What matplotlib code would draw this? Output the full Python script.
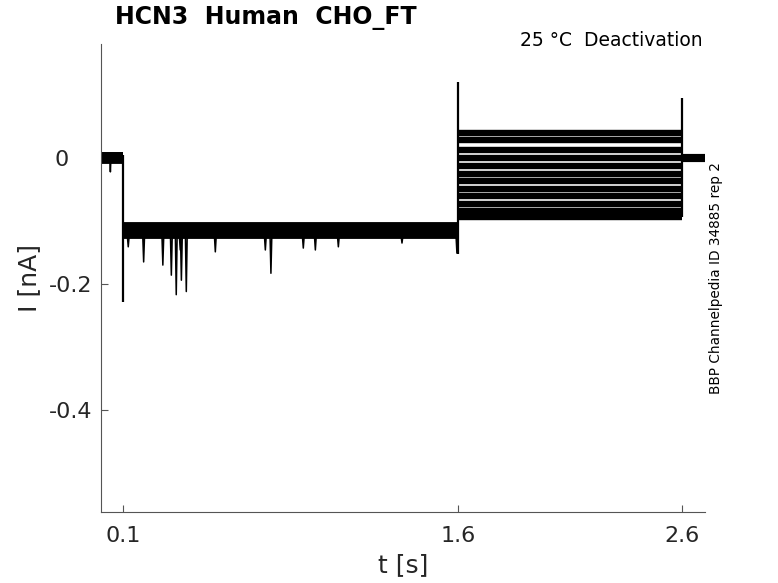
import matplotlib
matplotlib.use("Agg")
import matplotlib.pyplot as plt
from matplotlib.transforms import ScaledTranslation

# ---- data ----
t_start, t_on, t_step, t_off, t_end = 0.0, 0.1, 1.6, 2.6, 2.705
baseline_levels = [0.004, 0.002, 0.0, -0.002, 0.003, 0.001, -0.003, 0.005, -0.001, 0.002, -0.004, 0.0]
hold_levels = [-0.106, -0.108, -0.109, -0.111, -0.112, -0.114, -0.115, -0.117, -0.119, -0.120, -0.122, -0.124]
test_levels = [0.040, 0.029, 0.013, 0.000, -0.013, -0.025, -0.037, -0.049, -0.060, -0.073, -0.084, -0.094]
tail_levels = [0.003, 0.002, 0.001, 0.0, -0.001, 0.002, -0.002, 0.0, 0.001, -0.001, 0.002, -0.003]

spike_on = -0.229
spike_step_up = 0.12
spike_step_down = -0.152
spike_off = 0.095

# transient dips during the holding phase
dip_t = [0.122, 0.191, 0.277, 0.315, 0.337, 0.360, 0.382, 0.355, 0.512, 0.736,
         0.761, 0.906, 0.960, 1.063, 1.348, 1.594]
dip_v = [-0.141, -0.165, -0.170, -0.186, -0.217, -0.194, -0.212, -0.146, -0.149, -0.146,
         -0.183, -0.143, -0.146, -0.141, -0.135, -0.151]
base_dip_t = [0.042]
base_dip_v = [-0.022]

xticks = [0.1, 1.6, 2.6]
yticks = [0, -0.2, -0.4]
ytick_labels = ["0", "-0.2", "-0.4"]

fig = plt.figure(figsize=(7.78, 5.83), dpi=100)
ax = fig.add_axes([101/778, 71/583, 604/778, 468/583])

for b, h, s, tl in zip(baseline_levels, hold_levels, test_levels, tail_levels):
    ax.plot([t_start, t_on], [b, b], color="black", lw=4.2, solid_capstyle="butt")
    ax.plot([t_on, t_step], [h, h], color="black", lw=4.2, solid_capstyle="butt")
    ax.plot([t_step, t_off], [s, s], color="black", lw=4.6, solid_capstyle="butt")
    ax.plot([t_off, t_end], [tl, tl], color="black", lw=3.0, solid_capstyle="butt")

# capacitive transients (vertical)
ax.vlines([t_on], spike_on, max(baseline_levels), color="black", lw=1.6)
ax.vlines([t_step], spike_step_down, spike_step_up, color="black", lw=1.6)
ax.vlines([t_off], min(test_levels), spike_off, color="black", lw=1.6)

h0 = hold_levels[-1]
for t, v in zip(dip_t, dip_v):
    ax.plot([t - 0.004, t, t + 0.004], [h0, v, h0], color="black", lw=1.1)
b0 = baseline_levels[0]
for t, v in zip(base_dip_t, base_dip_v):
    ax.plot([t - 0.003, t, t + 0.003], [b0, v, b0], color="black", lw=1.1)

ax.set_xlim(0.0, 2.705)
ax.set_ylim(-0.562, 0.181)
ax.set_xticks(xticks)
ax.set_xticklabels([str(x) for x in xticks])
ax.set_yticks(yticks)
ax.set_yticklabels(ytick_labels)
for sp in ["top", "right"]:
    ax.spines[sp].set_visible(False)
for sp in ["left", "bottom"]:
    ax.spines[sp].set_color("#555555")
    ax.spines[sp].set_linewidth(0.8)
ax.tick_params(direction="in", length=5, width=0.8, colors="#555555",
               labelcolor="#262626", labelsize=16)
ax.tick_params(axis="x", pad=10)
ax.tick_params(axis="y", pad=6)
# the "0" label sits further left in the reference
lab0 = ax.get_yticklabels()[0]
lab0.set_transform(lab0.get_transform() + ScaledTranslation(-24/100, 0, fig.dpi_scale_trans))

ax.set_xlabel("t [s]", fontsize=18, color="#262626")
ax.set_ylabel("I [nA]", fontsize=18, color="#262626")
ax.xaxis.set_label_coords(0.5, -0.0876)
ax.yaxis.set_label_coords(-0.1, 0.5)

fig.text(115/778, 1 - 18/583, "HCN3  Human  CHO_FT", fontsize=17, fontweight="bold",
         ha="left", va="center")
fig.text(703/778, 1 - 41/583, "25 °C  Deactivation", fontsize=13.5,
         ha="right", va="center")
fig.text(716/778, 1 - 278/583, "BBP Channelpedia ID 34885 rep 2", fontsize=9.8,
         rotation=90, ha="center", va="center")

fig.savefig("out.png", dpi=100)
